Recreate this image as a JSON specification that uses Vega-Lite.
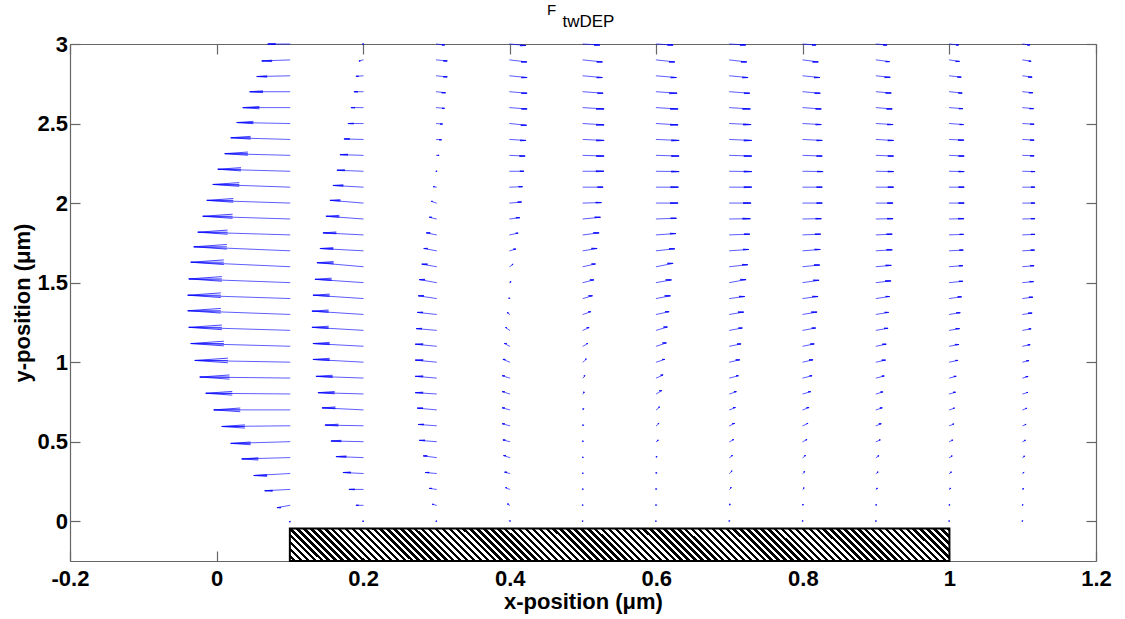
{
"$schema": "https://vega.github.io/schema/vega-lite/v6.json",
"width": 1026,
"height": 517,
"autosize": "none",
"padding": {"left": 70, "top": 44, "right": 29, "bottom": 58},
"background": "white",
"config": {
  "view": {"stroke": null},
  "font": "Liberation Sans",
  "axis": {"domainColor": "#666666", "domainWidth": 1.2, "tickColor": "#666666", "tickWidth": 1.2, "tickSize": -10, "grid": false,
    "labelFont": "Liberation Sans", "labelFontSize": 22, "labelFontWeight": "bold", "labelColor": "black",
    "titleFont": "Liberation Sans", "titleFontSize": 22, "titleFontWeight": "bold", "titleColor": "black",
    "labelFlush": false, "labelOverlap": false, "labelBound": false}
},
"title": {"text": "F", "anchor": "middle", "align": "left", "dx": -36, "fontSize": 15, "fontWeight": "normal", "color": "black", "font": "Liberation Sans", "offset": -6},
"datasets": {
"arrows": [
{"x":0.1,"y":3,"x2":0.07,"y2":3},
{"x":0.1,"y":2.9,"x2":0.0618,"y2":2.8937},
{"x":0.1,"y":2.8,"x2":0.055,"y2":2.7956},
{"x":0.1,"y":2.7,"x2":0.0454,"y2":2.7},
{"x":0.1,"y":2.6,"x2":0.0359,"y2":2.6},
{"x":0.1,"y":2.5,"x2":0.0277,"y2":2.5063},
{"x":0.1,"y":2.4,"x2":0.0195,"y2":2.4107},
{"x":0.1,"y":2.3,"x2":0.0113,"y2":2.3107},
{"x":0.1,"y":2.2,"x2":0.0018,"y2":2.2126},
{"x":0.1,"y":2.1,"x2":-0.005,"y2":2.117},
{"x":0.1,"y":2,"x2":-0.0132,"y2":2.017},
{"x":0.1,"y":1.9,"x2":-0.0187,"y2":1.917},
{"x":0.1,"y":1.8,"x2":-0.0255,"y2":1.817},
{"x":0.1,"y":1.7,"x2":-0.031,"y2":1.7251},
{"x":0.1,"y":1.6,"x2":-0.0351,"y2":1.6282},
{"x":0.1,"y":1.5,"x2":-0.0378,"y2":1.5232},
{"x":0.1,"y":1.4,"x2":-0.0392,"y2":1.4207},
{"x":0.1,"y":1.3,"x2":-0.0392,"y2":1.3232},
{"x":0.1,"y":1.2,"x2":-0.0378,"y2":1.2188},
{"x":0.1,"y":1.1,"x2":-0.0351,"y2":1.117},
{"x":0.1,"y":1,"x2":-0.0296,"y2":1.0107},
{"x":0.1,"y":0.9,"x2":-0.0228,"y2":0.9063},
{"x":0.1,"y":0.8,"x2":-0.0146,"y2":0.8044},
{"x":0.1,"y":0.7,"x2":-0.0037,"y2":0.7},
{"x":0.1,"y":0.6,"x2":0.0072,"y2":0.5956},
{"x":0.1,"y":0.5,"x2":0.0195,"y2":0.4893},
{"x":0.1,"y":0.4,"x2":0.0345,"y2":0.3918},
{"x":0.1,"y":0.3,"x2":0.0509,"y2":0.2874},
{"x":0.1,"y":0.2,"x2":0.0659,"y2":0.1918},
{"x":0.1,"y":0.1,"x2":0.0828,"y2":0.0856},
{"x":0.1,"y":0,"x2":0.0993,"y2":-0.003},
{"x":0.2,"y":3,"x2":0.1993,"y2":3},
{"x":0.2,"y":2.9,"x2":0.1945,"y2":2.8937},
{"x":0.2,"y":2.8,"x2":0.1905,"y2":2.7969},
{"x":0.2,"y":2.7,"x2":0.1877,"y2":2.7},
{"x":0.2,"y":2.6,"x2":0.1836,"y2":2.6},
{"x":0.2,"y":2.5,"x2":0.1795,"y2":2.5},
{"x":0.2,"y":2.4,"x2":0.1741,"y2":2.4031},
{"x":0.2,"y":2.3,"x2":0.1686,"y2":2.3044},
{"x":0.2,"y":2.2,"x2":0.1645,"y2":2.2063},
{"x":0.2,"y":2.1,"x2":0.1591,"y2":2.1107},
{"x":0.2,"y":2,"x2":0.155,"y2":2.017},
{"x":0.2,"y":1.9,"x2":0.1495,"y2":1.917},
{"x":0.2,"y":1.8,"x2":0.1454,"y2":1.8126},
{"x":0.2,"y":1.7,"x2":0.1413,"y2":1.7144},
{"x":0.2,"y":1.6,"x2":0.1372,"y2":1.6251},
{"x":0.2,"y":1.5,"x2":0.1345,"y2":1.5207},
{"x":0.2,"y":1.4,"x2":0.1318,"y2":1.4207},
{"x":0.2,"y":1.3,"x2":0.1304,"y2":1.3207},
{"x":0.2,"y":1.2,"x2":0.1304,"y2":1.2188},
{"x":0.2,"y":1.1,"x2":0.1318,"y2":1.117},
{"x":0.2,"y":1,"x2":0.1318,"y2":1.017},
{"x":0.2,"y":0.9,"x2":0.1359,"y2":0.9107},
{"x":0.2,"y":0.8,"x2":0.1386,"y2":0.8082},
{"x":0.2,"y":0.7,"x2":0.1441,"y2":0.7126},
{"x":0.2,"y":0.6,"x2":0.1482,"y2":0.6044},
{"x":0.2,"y":0.5,"x2":0.1563,"y2":0.5044},
{"x":0.2,"y":0.4,"x2":0.1632,"y2":0.4063},
{"x":0.2,"y":0.3,"x2":0.1727,"y2":0.3063},
{"x":0.2,"y":0.2,"x2":0.1809,"y2":0.2},
{"x":0.2,"y":0.1,"x2":0.1905,"y2":0.1},
{"x":0.2,"y":0,"x2":0.1993,"y2":0},
{"x":0.3,"y":3,"x2":0.3109,"y2":2.9937},
{"x":0.3,"y":2.9,"x2":0.3146,"y2":2.8937},
{"x":0.3,"y":2.8,"x2":0.3146,"y2":2.7937},
{"x":0.3,"y":2.7,"x2":0.3123,"y2":2.6937},
{"x":0.3,"y":2.6,"x2":0.3109,"y2":2.5956},
{"x":0.3,"y":2.5,"x2":0.3082,"y2":2.4969},
{"x":0.3,"y":2.4,"x2":0.3068,"y2":2.3981},
{"x":0.3,"y":2.3,"x2":0.3034,"y2":2.3},
{"x":0.3,"y":2.2,"x2":0.3007,"y2":2.2},
{"x":0.3,"y":2.1,"x2":0.2959,"y2":2.1031},
{"x":0.3,"y":2,"x2":0.2932,"y2":2.0107},
{"x":0.3,"y":1.9,"x2":0.2905,"y2":1.9107},
{"x":0.3,"y":1.8,"x2":0.2864,"y2":1.8126},
{"x":0.3,"y":1.7,"x2":0.2829,"y2":1.7144},
{"x":0.3,"y":1.6,"x2":0.2802,"y2":1.6157},
{"x":0.3,"y":1.5,"x2":0.2768,"y2":1.5188},
{"x":0.3,"y":1.4,"x2":0.2754,"y2":1.417},
{"x":0.3,"y":1.3,"x2":0.2741,"y2":1.3126},
{"x":0.3,"y":1.2,"x2":0.2727,"y2":1.2107},
{"x":0.3,"y":1.1,"x2":0.2713,"y2":1.1126},
{"x":0.3,"y":1,"x2":0.2713,"y2":1.0126},
{"x":0.3,"y":0.9,"x2":0.2713,"y2":0.9107},
{"x":0.3,"y":0.8,"x2":0.2713,"y2":0.8082},
{"x":0.3,"y":0.7,"x2":0.2741,"y2":0.7107},
{"x":0.3,"y":0.6,"x2":0.2754,"y2":0.6082},
{"x":0.3,"y":0.5,"x2":0.2768,"y2":0.5082},
{"x":0.3,"y":0.4,"x2":0.2823,"y2":0.4107},
{"x":0.3,"y":0.3,"x2":0.285,"y2":0.3063},
{"x":0.3,"y":0.2,"x2":0.2905,"y2":0.2063},
{"x":0.3,"y":0.1,"x2":0.2945,"y2":0.1063},
{"x":0.3,"y":0,"x2":0.2993,"y2":0},
{"x":0.4,"y":3,"x2":0.4218,"y2":2.9906},
{"x":0.4,"y":2.9,"x2":0.4232,"y2":2.8874},
{"x":0.4,"y":2.8,"x2":0.4236,"y2":2.7893},
{"x":0.4,"y":2.7,"x2":0.4236,"y2":2.6906},
{"x":0.4,"y":2.6,"x2":0.4236,"y2":2.5918},
{"x":0.4,"y":2.5,"x2":0.4228,"y2":2.4893},
{"x":0.4,"y":2.4,"x2":0.4218,"y2":2.3937},
{"x":0.4,"y":2.3,"x2":0.4209,"y2":2.2956},
{"x":0.4,"y":2.2,"x2":0.4191,"y2":2.2},
{"x":0.4,"y":2.1,"x2":0.4173,"y2":2.1031},
{"x":0.4,"y":2,"x2":0.416,"y2":2.0063},
{"x":0.4,"y":1.9,"x2":0.4136,"y2":1.9082},
{"x":0.4,"y":1.8,"x2":0.4113,"y2":1.8107},
{"x":0.4,"y":1.7,"x2":0.4082,"y2":1.7107},
{"x":0.4,"y":1.6,"x2":0.4045,"y2":1.6144},
{"x":0.4,"y":1.5,"x2":0.4018,"y2":1.5044},
{"x":0.4,"y":1.4,"x2":0.4,"y2":1.4019},
{"x":0.4,"y":1.3,"x2":0.3966,"y2":1.3107},
{"x":0.4,"y":1.2,"x2":0.3945,"y2":1.217},
{"x":0.4,"y":1.1,"x2":0.3928,"y2":1.117},
{"x":0.4,"y":1,"x2":0.3909,"y2":1.017},
{"x":0.4,"y":0.9,"x2":0.39,"y2":0.9144},
{"x":0.4,"y":0.8,"x2":0.39,"y2":0.8144},
{"x":0.4,"y":0.7,"x2":0.39,"y2":0.7126},
{"x":0.4,"y":0.6,"x2":0.39,"y2":0.6126},
{"x":0.4,"y":0.5,"x2":0.3909,"y2":0.5107},
{"x":0.4,"y":0.4,"x2":0.3918,"y2":0.4126},
{"x":0.4,"y":0.3,"x2":0.3932,"y2":0.3082},
{"x":0.4,"y":0.2,"x2":0.3945,"y2":0.2107},
{"x":0.4,"y":0.1,"x2":0.3969,"y2":0.1082},
{"x":0.4,"y":0,"x2":0.3996,"y2":0.0019},
{"x":0.5,"y":3,"x2":0.5228,"y2":2.9937},
{"x":0.5,"y":2.9,"x2":0.5263,"y2":2.8874},
{"x":0.5,"y":2.8,"x2":0.5263,"y2":2.7893},
{"x":0.5,"y":2.7,"x2":0.5273,"y2":2.6906},
{"x":0.5,"y":2.6,"x2":0.5286,"y2":2.5918},
{"x":0.5,"y":2.5,"x2":0.5286,"y2":2.4918},
{"x":0.5,"y":2.4,"x2":0.5286,"y2":2.3937},
{"x":0.5,"y":2.3,"x2":0.5286,"y2":2.2956},
{"x":0.5,"y":2.2,"x2":0.5282,"y2":2.2},
{"x":0.5,"y":2.1,"x2":0.5273,"y2":2.1},
{"x":0.5,"y":2,"x2":0.525,"y2":2.0031},
{"x":0.5,"y":1.9,"x2":0.5236,"y2":1.9107},
{"x":0.5,"y":1.8,"x2":0.5218,"y2":1.8126},
{"x":0.5,"y":1.7,"x2":0.5191,"y2":1.7144},
{"x":0.5,"y":1.6,"x2":0.5168,"y2":1.617},
{"x":0.5,"y":1.5,"x2":0.5146,"y2":1.517},
{"x":0.5,"y":1.4,"x2":0.5127,"y2":1.417},
{"x":0.5,"y":1.3,"x2":0.5105,"y2":1.317},
{"x":0.5,"y":1.2,"x2":0.5082,"y2":1.217},
{"x":0.5,"y":1.1,"x2":0.5064,"y2":1.117},
{"x":0.5,"y":1,"x2":0.5045,"y2":1.0188},
{"x":0.5,"y":0.9,"x2":0.5027,"y2":0.9144},
{"x":0.5,"y":0.8,"x2":0.5018,"y2":0.8107},
{"x":0.5,"y":0.7,"x2":0.501,"y2":0.7063},
{"x":0.5,"y":0.6,"x2":0.5007,"y2":0.6044},
{"x":0.5,"y":0.5,"x2":0.5004,"y2":0.5031},
{"x":0.5,"y":0.4,"x2":0.5004,"y2":0.4019},
{"x":0.5,"y":0.3,"x2":0.5003,"y2":0.3019},
{"x":0.5,"y":0.2,"x2":0.5003,"y2":0.2019},
{"x":0.5,"y":0.1,"x2":0.5001,"y2":0.1013},
{"x":0.5,"y":0,"x2":0.5001,"y2":0.0006},
{"x":0.6,"y":3,"x2":0.6228,"y2":2.9937},
{"x":0.6,"y":2.9,"x2":0.625,"y2":2.8874},
{"x":0.6,"y":2.8,"x2":0.6273,"y2":2.7893},
{"x":0.6,"y":2.7,"x2":0.6282,"y2":2.6906},
{"x":0.6,"y":2.6,"x2":0.6296,"y2":2.5918},
{"x":0.6,"y":2.5,"x2":0.6296,"y2":2.4918},
{"x":0.6,"y":2.4,"x2":0.631,"y2":2.3937},
{"x":0.6,"y":2.3,"x2":0.631,"y2":2.2956},
{"x":0.6,"y":2.2,"x2":0.631,"y2":2.1981},
{"x":0.6,"y":2.1,"x2":0.63,"y2":2.1},
{"x":0.6,"y":2,"x2":0.6296,"y2":2},
{"x":0.6,"y":1.9,"x2":0.6273,"y2":1.9044},
{"x":0.6,"y":1.8,"x2":0.6263,"y2":1.8082},
{"x":0.6,"y":1.7,"x2":0.625,"y2":1.7126},
{"x":0.6,"y":1.6,"x2":0.6228,"y2":1.6207},
{"x":0.6,"y":1.5,"x2":0.6205,"y2":1.517},
{"x":0.6,"y":1.4,"x2":0.6191,"y2":1.417},
{"x":0.6,"y":1.3,"x2":0.6173,"y2":1.317},
{"x":0.6,"y":1.2,"x2":0.615,"y2":1.2207},
{"x":0.6,"y":1.1,"x2":0.6136,"y2":1.1207},
{"x":0.6,"y":1,"x2":0.6113,"y2":1.017},
{"x":0.6,"y":0.9,"x2":0.6091,"y2":0.9188},
{"x":0.6,"y":0.8,"x2":0.6072,"y2":0.8207},
{"x":0.6,"y":0.7,"x2":0.6045,"y2":0.717},
{"x":0.6,"y":0.6,"x2":0.6037,"y2":0.6144},
{"x":0.6,"y":0.5,"x2":0.6027,"y2":0.5082},
{"x":0.6,"y":0.4,"x2":0.601,"y2":0.4063},
{"x":0.6,"y":0.3,"x2":0.6007,"y2":0.3044},
{"x":0.6,"y":0.2,"x2":0.6004,"y2":0.2031},
{"x":0.6,"y":0.1,"x2":0.6003,"y2":0.1019},
{"x":0.6,"y":0,"x2":0.6001,"y2":0.0006},
{"x":0.7,"y":3,"x2":0.7218,"y2":2.9937},
{"x":0.7,"y":2.9,"x2":0.7232,"y2":2.8874},
{"x":0.7,"y":2.8,"x2":0.725,"y2":2.7893},
{"x":0.7,"y":2.7,"x2":0.7273,"y2":2.6906},
{"x":0.7,"y":2.6,"x2":0.7282,"y2":2.5918},
{"x":0.7,"y":2.5,"x2":0.7291,"y2":2.4937},
{"x":0.7,"y":2.4,"x2":0.73,"y2":2.3937},
{"x":0.7,"y":2.3,"x2":0.73,"y2":2.2956},
{"x":0.7,"y":2.2,"x2":0.73,"y2":2.1981},
{"x":0.7,"y":2.1,"x2":0.73,"y2":2.1},
{"x":0.7,"y":2,"x2":0.7291,"y2":2},
{"x":0.7,"y":1.9,"x2":0.7282,"y2":1.9019},
{"x":0.7,"y":1.8,"x2":0.7273,"y2":1.8044},
{"x":0.7,"y":1.7,"x2":0.7259,"y2":1.7082},
{"x":0.7,"y":1.6,"x2":0.7246,"y2":1.6126},
{"x":0.7,"y":1.5,"x2":0.7222,"y2":1.5188},
{"x":0.7,"y":1.4,"x2":0.7205,"y2":1.4126},
{"x":0.7,"y":1.3,"x2":0.7191,"y2":1.3144},
{"x":0.7,"y":1.2,"x2":0.7173,"y2":1.2144},
{"x":0.7,"y":1.1,"x2":0.7154,"y2":1.1144},
{"x":0.7,"y":1,"x2":0.7136,"y2":1.0144},
{"x":0.7,"y":0.9,"x2":0.7119,"y2":0.9144},
{"x":0.7,"y":0.8,"x2":0.7091,"y2":0.8144},
{"x":0.7,"y":0.7,"x2":0.7078,"y2":0.7144},
{"x":0.7,"y":0.6,"x2":0.7068,"y2":0.6144},
{"x":0.7,"y":0.5,"x2":0.7055,"y2":0.5126},
{"x":0.7,"y":0.4,"x2":0.7041,"y2":0.4126},
{"x":0.7,"y":0.3,"x2":0.7034,"y2":0.3144},
{"x":0.7,"y":0.2,"x2":0.7023,"y2":0.2107},
{"x":0.7,"y":0.1,"x2":0.701,"y2":0.1063},
{"x":0.7,"y":0,"x2":0.7003,"y2":0.0019},
{"x":0.8,"y":3,"x2":0.8177,"y2":2.9937},
{"x":0.8,"y":2.9,"x2":0.8209,"y2":2.8874},
{"x":0.8,"y":2.8,"x2":0.8228,"y2":2.7893},
{"x":0.8,"y":2.7,"x2":0.8236,"y2":2.6906},
{"x":0.8,"y":2.6,"x2":0.825,"y2":2.5918},
{"x":0.8,"y":2.5,"x2":0.825,"y2":2.4937},
{"x":0.8,"y":2.4,"x2":0.8263,"y2":2.3937},
{"x":0.8,"y":2.3,"x2":0.8263,"y2":2.2956},
{"x":0.8,"y":2.2,"x2":0.8273,"y2":2.1981},
{"x":0.8,"y":2.1,"x2":0.8263,"y2":2.1},
{"x":0.8,"y":2,"x2":0.8263,"y2":2},
{"x":0.8,"y":1.9,"x2":0.825,"y2":1.9019},
{"x":0.8,"y":1.8,"x2":0.8241,"y2":1.8044},
{"x":0.8,"y":1.7,"x2":0.8236,"y2":1.7082},
{"x":0.8,"y":1.6,"x2":0.8228,"y2":1.6107},
{"x":0.8,"y":1.5,"x2":0.8218,"y2":1.5144},
{"x":0.8,"y":1.4,"x2":0.8205,"y2":1.4126},
{"x":0.8,"y":1.3,"x2":0.8191,"y2":1.3144},
{"x":0.8,"y":1.2,"x2":0.8173,"y2":1.2144},
{"x":0.8,"y":1.1,"x2":0.8154,"y2":1.1144},
{"x":0.8,"y":1,"x2":0.8136,"y2":1.0144},
{"x":0.8,"y":0.9,"x2":0.8123,"y2":0.9144},
{"x":0.8,"y":0.8,"x2":0.8105,"y2":0.8144},
{"x":0.8,"y":0.7,"x2":0.8082,"y2":0.7144},
{"x":0.8,"y":0.6,"x2":0.8068,"y2":0.6144},
{"x":0.8,"y":0.5,"x2":0.8055,"y2":0.5126},
{"x":0.8,"y":0.4,"x2":0.8037,"y2":0.4126},
{"x":0.8,"y":0.3,"x2":0.8027,"y2":0.3107},
{"x":0.8,"y":0.2,"x2":0.8018,"y2":0.2082},
{"x":0.8,"y":0.1,"x2":0.8007,"y2":0.1044},
{"x":0.8,"y":0,"x2":0.8003,"y2":0.0019},
{"x":0.9,"y":3,"x2":0.9146,"y2":2.9937},
{"x":0.9,"y":2.9,"x2":0.9181,"y2":2.8893},
{"x":0.9,"y":2.8,"x2":0.9191,"y2":2.7906},
{"x":0.9,"y":2.7,"x2":0.9205,"y2":2.6918},
{"x":0.9,"y":2.6,"x2":0.9218,"y2":2.5918},
{"x":0.9,"y":2.5,"x2":0.9228,"y2":2.4937},
{"x":0.9,"y":2.4,"x2":0.9236,"y2":2.3937},
{"x":0.9,"y":2.3,"x2":0.9236,"y2":2.2956},
{"x":0.9,"y":2.2,"x2":0.9236,"y2":2.1981},
{"x":0.9,"y":2.1,"x2":0.9236,"y2":2.1},
{"x":0.9,"y":2,"x2":0.9228,"y2":2},
{"x":0.9,"y":1.9,"x2":0.9228,"y2":1.9019},
{"x":0.9,"y":1.8,"x2":0.9218,"y2":1.8044},
{"x":0.9,"y":1.7,"x2":0.9218,"y2":1.7063},
{"x":0.9,"y":1.6,"x2":0.9205,"y2":1.6082},
{"x":0.9,"y":1.5,"x2":0.92,"y2":1.5107},
{"x":0.9,"y":1.4,"x2":0.9181,"y2":1.4126},
{"x":0.9,"y":1.3,"x2":0.9168,"y2":1.3126},
{"x":0.9,"y":1.2,"x2":0.916,"y2":1.2126},
{"x":0.9,"y":1.1,"x2":0.9136,"y2":1.1126},
{"x":0.9,"y":1,"x2":0.9127,"y2":1.0126},
{"x":0.9,"y":0.9,"x2":0.9109,"y2":0.9126},
{"x":0.9,"y":0.8,"x2":0.9091,"y2":0.8126},
{"x":0.9,"y":0.7,"x2":0.9082,"y2":0.7126},
{"x":0.9,"y":0.6,"x2":0.9068,"y2":0.6126},
{"x":0.9,"y":0.5,"x2":0.9055,"y2":0.5107},
{"x":0.9,"y":0.4,"x2":0.9037,"y2":0.4107},
{"x":0.9,"y":0.3,"x2":0.9027,"y2":0.3082},
{"x":0.9,"y":0.2,"x2":0.9018,"y2":0.2063},
{"x":0.9,"y":0.1,"x2":0.9007,"y2":0.1031},
{"x":0.9,"y":0,"x2":0.9003,"y2":0.0013},
{"x":1,"y":3,"x2":1.0123,"y2":2.9937},
{"x":1,"y":2.9,"x2":1.0136,"y2":2.8906},
{"x":1,"y":2.8,"x2":1.016,"y2":2.7918},
{"x":1,"y":2.7,"x2":1.0173,"y2":2.6918},
{"x":1,"y":2.6,"x2":1.0181,"y2":2.5937},
{"x":1,"y":2.5,"x2":1.0191,"y2":2.4937},
{"x":1,"y":2.4,"x2":1.0195,"y2":2.3956},
{"x":1,"y":2.3,"x2":1.02,"y2":2.2956},
{"x":1,"y":2.2,"x2":1.02,"y2":2.1981},
{"x":1,"y":2.1,"x2":1.02,"y2":2.1},
{"x":1,"y":2,"x2":1.02,"y2":2},
{"x":1,"y":1.9,"x2":1.0195,"y2":1.9019},
{"x":1,"y":1.8,"x2":1.0191,"y2":1.8031},
{"x":1,"y":1.7,"x2":1.0187,"y2":1.7044},
{"x":1,"y":1.6,"x2":1.0181,"y2":1.6063},
{"x":1,"y":1.5,"x2":1.0181,"y2":1.5082},
{"x":1,"y":1.4,"x2":1.0164,"y2":1.4107},
{"x":1,"y":1.3,"x2":1.0146,"y2":1.3107},
{"x":1,"y":1.2,"x2":1.0136,"y2":1.2107},
{"x":1,"y":1.1,"x2":1.0127,"y2":1.1107},
{"x":1,"y":1,"x2":1.0113,"y2":1.0107},
{"x":1,"y":0.9,"x2":1.0091,"y2":0.9107},
{"x":1,"y":0.8,"x2":1.0082,"y2":0.8107},
{"x":1,"y":0.7,"x2":1.0068,"y2":0.7107},
{"x":1,"y":0.6,"x2":1.0059,"y2":0.6107},
{"x":1,"y":0.5,"x2":1.0045,"y2":0.5094},
{"x":1,"y":0.4,"x2":1.0037,"y2":0.4094},
{"x":1,"y":0.3,"x2":1.0027,"y2":0.3082},
{"x":1,"y":0.2,"x2":1.0018,"y2":0.2063},
{"x":1,"y":0.1,"x2":1.0007,"y2":0.1031},
{"x":1,"y":0,"x2":1.0003,"y2":0.0013},
{"x":1.1,"y":3,"x2":1.1095,"y2":2.9937},
{"x":1.1,"y":2.9,"x2":1.1113,"y2":2.8918},
{"x":1.1,"y":2.8,"x2":1.1127,"y2":2.7918},
{"x":1.1,"y":2.7,"x2":1.1136,"y2":2.6937},
{"x":1.1,"y":2.6,"x2":1.1146,"y2":2.5937},
{"x":1.1,"y":2.5,"x2":1.1154,"y2":2.4956},
{"x":1.1,"y":2.4,"x2":1.1154,"y2":2.3956},
{"x":1.1,"y":2.3,"x2":1.1154,"y2":2.2969},
{"x":1.1,"y":2.2,"x2":1.1164,"y2":2.1981},
{"x":1.1,"y":2.1,"x2":1.1164,"y2":2.1},
{"x":1.1,"y":2,"x2":1.1164,"y2":2},
{"x":1.1,"y":1.9,"x2":1.1164,"y2":1.9019},
{"x":1.1,"y":1.8,"x2":1.1164,"y2":1.8031},
{"x":1.1,"y":1.7,"x2":1.116,"y2":1.7044},
{"x":1.1,"y":1.6,"x2":1.1154,"y2":1.6063},
{"x":1.1,"y":1.5,"x2":1.1146,"y2":1.5063},
{"x":1.1,"y":1.4,"x2":1.1136,"y2":1.4082},
{"x":1.1,"y":1.3,"x2":1.1127,"y2":1.3082},
{"x":1.1,"y":1.2,"x2":1.1113,"y2":1.2094},
{"x":1.1,"y":1.1,"x2":1.11,"y2":1.1094},
{"x":1.1,"y":1,"x2":1.1082,"y2":1.0094},
{"x":1.1,"y":0.9,"x2":1.1072,"y2":0.9094},
{"x":1.1,"y":0.8,"x2":1.1068,"y2":0.8094},
{"x":1.1,"y":0.7,"x2":1.1055,"y2":0.7094},
{"x":1.1,"y":0.6,"x2":1.1045,"y2":0.6082},
{"x":1.1,"y":0.5,"x2":1.1037,"y2":0.5082},
{"x":1.1,"y":0.4,"x2":1.1027,"y2":0.4082},
{"x":1.1,"y":0.3,"x2":1.1018,"y2":0.3063},
{"x":1.1,"y":0.2,"x2":1.1014,"y2":0.2044},
{"x":1.1,"y":0.1,"x2":1.1005,"y2":0.1025},
{"x":1.1,"y":0,"x2":1.1003,"y2":0.0013}
],
"electrode": [{"x":0.1,"x2":1.0,"y":-0.045,"y2":-0.25}]
},
"layer": [
{
  "data": {"name": "electrode"},
  "mark": {"type": "rect", "stroke": "black", "strokeWidth": 2,
    "fill": {"gradient": "linear", "x1": 0, "y1": 1, "x2": 1.047, "y2": 0.9481, "stops": [
{"offset":0,"color":"#fff"},{"offset":0.005,"color":"#fff"},{"offset":0.005,"color":"#000"},{"offset":0.01,"color":"#000"},
{"offset":0.01,"color":"#fff"},{"offset":0.015,"color":"#fff"},{"offset":0.015,"color":"#000"},{"offset":0.02,"color":"#000"},
{"offset":0.02,"color":"#fff"},{"offset":0.025,"color":"#fff"},{"offset":0.025,"color":"#000"},{"offset":0.03,"color":"#000"},
{"offset":0.03,"color":"#fff"},{"offset":0.035,"color":"#fff"},{"offset":0.035,"color":"#000"},{"offset":0.04,"color":"#000"},
{"offset":0.04,"color":"#fff"},{"offset":0.045,"color":"#fff"},{"offset":0.045,"color":"#000"},{"offset":0.05,"color":"#000"},
{"offset":0.05,"color":"#fff"},{"offset":0.055,"color":"#fff"},{"offset":0.055,"color":"#000"},{"offset":0.06,"color":"#000"},
{"offset":0.06,"color":"#fff"},{"offset":0.065,"color":"#fff"},{"offset":0.065,"color":"#000"},{"offset":0.07,"color":"#000"},
{"offset":0.07,"color":"#fff"},{"offset":0.075,"color":"#fff"},{"offset":0.075,"color":"#000"},{"offset":0.08,"color":"#000"},
{"offset":0.08,"color":"#fff"},{"offset":0.085,"color":"#fff"},{"offset":0.085,"color":"#000"},{"offset":0.09,"color":"#000"},
{"offset":0.09,"color":"#fff"},{"offset":0.095,"color":"#fff"},{"offset":0.095,"color":"#000"},{"offset":0.1,"color":"#000"},
{"offset":0.1,"color":"#fff"},{"offset":0.105,"color":"#fff"},{"offset":0.105,"color":"#000"},{"offset":0.11,"color":"#000"},
{"offset":0.11,"color":"#fff"},{"offset":0.115,"color":"#fff"},{"offset":0.115,"color":"#000"},{"offset":0.12,"color":"#000"},
{"offset":0.12,"color":"#fff"},{"offset":0.125,"color":"#fff"},{"offset":0.125,"color":"#000"},{"offset":0.13,"color":"#000"},
{"offset":0.13,"color":"#fff"},{"offset":0.135,"color":"#fff"},{"offset":0.135,"color":"#000"},{"offset":0.14,"color":"#000"},
{"offset":0.14,"color":"#fff"},{"offset":0.145,"color":"#fff"},{"offset":0.145,"color":"#000"},{"offset":0.15,"color":"#000"},
{"offset":0.15,"color":"#fff"},{"offset":0.155,"color":"#fff"},{"offset":0.155,"color":"#000"},{"offset":0.16,"color":"#000"},
{"offset":0.16,"color":"#fff"},{"offset":0.165,"color":"#fff"},{"offset":0.165,"color":"#000"},{"offset":0.17,"color":"#000"},
{"offset":0.17,"color":"#fff"},{"offset":0.175,"color":"#fff"},{"offset":0.175,"color":"#000"},{"offset":0.18,"color":"#000"},
{"offset":0.18,"color":"#fff"},{"offset":0.185,"color":"#fff"},{"offset":0.185,"color":"#000"},{"offset":0.19,"color":"#000"},
{"offset":0.19,"color":"#fff"},{"offset":0.195,"color":"#fff"},{"offset":0.195,"color":"#000"},{"offset":0.2,"color":"#000"},
{"offset":0.2,"color":"#fff"},{"offset":0.205,"color":"#fff"},{"offset":0.205,"color":"#000"},{"offset":0.21,"color":"#000"},
{"offset":0.21,"color":"#fff"},{"offset":0.215,"color":"#fff"},{"offset":0.215,"color":"#000"},{"offset":0.22,"color":"#000"},
{"offset":0.22,"color":"#fff"},{"offset":0.225,"color":"#fff"},{"offset":0.225,"color":"#000"},{"offset":0.23,"color":"#000"},
{"offset":0.23,"color":"#fff"},{"offset":0.235,"color":"#fff"},{"offset":0.235,"color":"#000"},{"offset":0.24,"color":"#000"},
{"offset":0.24,"color":"#fff"},{"offset":0.245,"color":"#fff"},{"offset":0.245,"color":"#000"},{"offset":0.25,"color":"#000"},
{"offset":0.25,"color":"#fff"},{"offset":0.255,"color":"#fff"},{"offset":0.255,"color":"#000"},{"offset":0.26,"color":"#000"},
{"offset":0.26,"color":"#fff"},{"offset":0.265,"color":"#fff"},{"offset":0.265,"color":"#000"},{"offset":0.27,"color":"#000"},
{"offset":0.27,"color":"#fff"},{"offset":0.275,"color":"#fff"},{"offset":0.275,"color":"#000"},{"offset":0.28,"color":"#000"},
{"offset":0.28,"color":"#fff"},{"offset":0.285,"color":"#fff"},{"offset":0.285,"color":"#000"},{"offset":0.29,"color":"#000"},
{"offset":0.29,"color":"#fff"},{"offset":0.295,"color":"#fff"},{"offset":0.295,"color":"#000"},{"offset":0.3,"color":"#000"},
{"offset":0.3,"color":"#fff"},{"offset":0.305,"color":"#fff"},{"offset":0.305,"color":"#000"},{"offset":0.31,"color":"#000"},
{"offset":0.31,"color":"#fff"},{"offset":0.315,"color":"#fff"},{"offset":0.315,"color":"#000"},{"offset":0.32,"color":"#000"},
{"offset":0.32,"color":"#fff"},{"offset":0.325,"color":"#fff"},{"offset":0.325,"color":"#000"},{"offset":0.33,"color":"#000"},
{"offset":0.33,"color":"#fff"},{"offset":0.335,"color":"#fff"},{"offset":0.335,"color":"#000"},{"offset":0.34,"color":"#000"},
{"offset":0.34,"color":"#fff"},{"offset":0.345,"color":"#fff"},{"offset":0.345,"color":"#000"},{"offset":0.35,"color":"#000"},
{"offset":0.35,"color":"#fff"},{"offset":0.355,"color":"#fff"},{"offset":0.355,"color":"#000"},{"offset":0.36,"color":"#000"},
{"offset":0.36,"color":"#fff"},{"offset":0.365,"color":"#fff"},{"offset":0.365,"color":"#000"},{"offset":0.37,"color":"#000"},
{"offset":0.37,"color":"#fff"},{"offset":0.375,"color":"#fff"},{"offset":0.375,"color":"#000"},{"offset":0.38,"color":"#000"},
{"offset":0.38,"color":"#fff"},{"offset":0.385,"color":"#fff"},{"offset":0.385,"color":"#000"},{"offset":0.39,"color":"#000"},
{"offset":0.39,"color":"#fff"},{"offset":0.395,"color":"#fff"},{"offset":0.395,"color":"#000"},{"offset":0.4,"color":"#000"},
{"offset":0.4,"color":"#fff"},{"offset":0.405,"color":"#fff"},{"offset":0.405,"color":"#000"},{"offset":0.41,"color":"#000"},
{"offset":0.41,"color":"#fff"},{"offset":0.415,"color":"#fff"},{"offset":0.415,"color":"#000"},{"offset":0.42,"color":"#000"},
{"offset":0.42,"color":"#fff"},{"offset":0.425,"color":"#fff"},{"offset":0.425,"color":"#000"},{"offset":0.43,"color":"#000"},
{"offset":0.43,"color":"#fff"},{"offset":0.435,"color":"#fff"},{"offset":0.435,"color":"#000"},{"offset":0.44,"color":"#000"},
{"offset":0.44,"color":"#fff"},{"offset":0.445,"color":"#fff"},{"offset":0.445,"color":"#000"},{"offset":0.45,"color":"#000"},
{"offset":0.45,"color":"#fff"},{"offset":0.455,"color":"#fff"},{"offset":0.455,"color":"#000"},{"offset":0.46,"color":"#000"},
{"offset":0.46,"color":"#fff"},{"offset":0.465,"color":"#fff"},{"offset":0.465,"color":"#000"},{"offset":0.47,"color":"#000"},
{"offset":0.47,"color":"#fff"},{"offset":0.475,"color":"#fff"},{"offset":0.475,"color":"#000"},{"offset":0.48,"color":"#000"},
{"offset":0.48,"color":"#fff"},{"offset":0.485,"color":"#fff"},{"offset":0.485,"color":"#000"},{"offset":0.49,"color":"#000"},
{"offset":0.49,"color":"#fff"},{"offset":0.495,"color":"#fff"},{"offset":0.495,"color":"#000"},{"offset":0.5,"color":"#000"},
{"offset":0.5,"color":"#fff"},{"offset":0.505,"color":"#fff"},{"offset":0.505,"color":"#000"},{"offset":0.51,"color":"#000"},
{"offset":0.51,"color":"#fff"},{"offset":0.515,"color":"#fff"},{"offset":0.515,"color":"#000"},{"offset":0.52,"color":"#000"},
{"offset":0.52,"color":"#fff"},{"offset":0.525,"color":"#fff"},{"offset":0.525,"color":"#000"},{"offset":0.53,"color":"#000"},
{"offset":0.53,"color":"#fff"},{"offset":0.535,"color":"#fff"},{"offset":0.535,"color":"#000"},{"offset":0.54,"color":"#000"},
{"offset":0.54,"color":"#fff"},{"offset":0.545,"color":"#fff"},{"offset":0.545,"color":"#000"},{"offset":0.55,"color":"#000"},
{"offset":0.55,"color":"#fff"},{"offset":0.555,"color":"#fff"},{"offset":0.555,"color":"#000"},{"offset":0.56,"color":"#000"},
{"offset":0.56,"color":"#fff"},{"offset":0.565,"color":"#fff"},{"offset":0.565,"color":"#000"},{"offset":0.57,"color":"#000"},
{"offset":0.57,"color":"#fff"},{"offset":0.575,"color":"#fff"},{"offset":0.575,"color":"#000"},{"offset":0.58,"color":"#000"},
{"offset":0.58,"color":"#fff"},{"offset":0.585,"color":"#fff"},{"offset":0.585,"color":"#000"},{"offset":0.59,"color":"#000"},
{"offset":0.59,"color":"#fff"},{"offset":0.595,"color":"#fff"},{"offset":0.595,"color":"#000"},{"offset":0.6,"color":"#000"},
{"offset":0.6,"color":"#fff"},{"offset":0.605,"color":"#fff"},{"offset":0.605,"color":"#000"},{"offset":0.61,"color":"#000"},
{"offset":0.61,"color":"#fff"},{"offset":0.615,"color":"#fff"},{"offset":0.615,"color":"#000"},{"offset":0.62,"color":"#000"},
{"offset":0.62,"color":"#fff"},{"offset":0.625,"color":"#fff"},{"offset":0.625,"color":"#000"},{"offset":0.63,"color":"#000"},
{"offset":0.63,"color":"#fff"},{"offset":0.635,"color":"#fff"},{"offset":0.635,"color":"#000"},{"offset":0.64,"color":"#000"},
{"offset":0.64,"color":"#fff"},{"offset":0.645,"color":"#fff"},{"offset":0.645,"color":"#000"},{"offset":0.65,"color":"#000"},
{"offset":0.65,"color":"#fff"},{"offset":0.655,"color":"#fff"},{"offset":0.655,"color":"#000"},{"offset":0.66,"color":"#000"},
{"offset":0.66,"color":"#fff"},{"offset":0.665,"color":"#fff"},{"offset":0.665,"color":"#000"},{"offset":0.67,"color":"#000"},
{"offset":0.67,"color":"#fff"},{"offset":0.675,"color":"#fff"},{"offset":0.675,"color":"#000"},{"offset":0.68,"color":"#000"},
{"offset":0.68,"color":"#fff"},{"offset":0.685,"color":"#fff"},{"offset":0.685,"color":"#000"},{"offset":0.69,"color":"#000"},
{"offset":0.69,"color":"#fff"},{"offset":0.695,"color":"#fff"},{"offset":0.695,"color":"#000"},{"offset":0.7,"color":"#000"},
{"offset":0.7,"color":"#fff"},{"offset":0.705,"color":"#fff"},{"offset":0.705,"color":"#000"},{"offset":0.71,"color":"#000"},
{"offset":0.71,"color":"#fff"},{"offset":0.715,"color":"#fff"},{"offset":0.715,"color":"#000"},{"offset":0.72,"color":"#000"},
{"offset":0.72,"color":"#fff"},{"offset":0.725,"color":"#fff"},{"offset":0.725,"color":"#000"},{"offset":0.73,"color":"#000"},
{"offset":0.73,"color":"#fff"},{"offset":0.735,"color":"#fff"},{"offset":0.735,"color":"#000"},{"offset":0.74,"color":"#000"},
{"offset":0.74,"color":"#fff"},{"offset":0.745,"color":"#fff"},{"offset":0.745,"color":"#000"},{"offset":0.75,"color":"#000"},
{"offset":0.75,"color":"#fff"},{"offset":0.755,"color":"#fff"},{"offset":0.755,"color":"#000"},{"offset":0.76,"color":"#000"},
{"offset":0.76,"color":"#fff"},{"offset":0.765,"color":"#fff"},{"offset":0.765,"color":"#000"},{"offset":0.77,"color":"#000"},
{"offset":0.77,"color":"#fff"},{"offset":0.775,"color":"#fff"},{"offset":0.775,"color":"#000"},{"offset":0.78,"color":"#000"},
{"offset":0.78,"color":"#fff"},{"offset":0.785,"color":"#fff"},{"offset":0.785,"color":"#000"},{"offset":0.79,"color":"#000"},
{"offset":0.79,"color":"#fff"},{"offset":0.795,"color":"#fff"},{"offset":0.795,"color":"#000"},{"offset":0.8,"color":"#000"},
{"offset":0.8,"color":"#fff"},{"offset":0.805,"color":"#fff"},{"offset":0.805,"color":"#000"},{"offset":0.81,"color":"#000"},
{"offset":0.81,"color":"#fff"},{"offset":0.815,"color":"#fff"},{"offset":0.815,"color":"#000"},{"offset":0.82,"color":"#000"},
{"offset":0.82,"color":"#fff"},{"offset":0.825,"color":"#fff"},{"offset":0.825,"color":"#000"},{"offset":0.83,"color":"#000"},
{"offset":0.83,"color":"#fff"},{"offset":0.835,"color":"#fff"},{"offset":0.835,"color":"#000"},{"offset":0.84,"color":"#000"},
{"offset":0.84,"color":"#fff"},{"offset":0.845,"color":"#fff"},{"offset":0.845,"color":"#000"},{"offset":0.85,"color":"#000"},
{"offset":0.85,"color":"#fff"},{"offset":0.855,"color":"#fff"},{"offset":0.855,"color":"#000"},{"offset":0.86,"color":"#000"},
{"offset":0.86,"color":"#fff"},{"offset":0.865,"color":"#fff"},{"offset":0.865,"color":"#000"},{"offset":0.87,"color":"#000"},
{"offset":0.87,"color":"#fff"},{"offset":0.875,"color":"#fff"},{"offset":0.875,"color":"#000"},{"offset":0.88,"color":"#000"},
{"offset":0.88,"color":"#fff"},{"offset":0.885,"color":"#fff"},{"offset":0.885,"color":"#000"},{"offset":0.89,"color":"#000"},
{"offset":0.89,"color":"#fff"},{"offset":0.895,"color":"#fff"},{"offset":0.895,"color":"#000"},{"offset":0.9,"color":"#000"},
{"offset":0.9,"color":"#fff"},{"offset":0.905,"color":"#fff"},{"offset":0.905,"color":"#000"},{"offset":0.91,"color":"#000"},
{"offset":0.91,"color":"#fff"},{"offset":0.915,"color":"#fff"},{"offset":0.915,"color":"#000"},{"offset":0.92,"color":"#000"},
{"offset":0.92,"color":"#fff"},{"offset":0.925,"color":"#fff"},{"offset":0.925,"color":"#000"},{"offset":0.93,"color":"#000"},
{"offset":0.93,"color":"#fff"},{"offset":0.935,"color":"#fff"},{"offset":0.935,"color":"#000"},{"offset":0.94,"color":"#000"},
{"offset":0.94,"color":"#fff"},{"offset":0.945,"color":"#fff"},{"offset":0.945,"color":"#000"},{"offset":0.95,"color":"#000"},
{"offset":0.95,"color":"#fff"},{"offset":0.955,"color":"#fff"},{"offset":0.955,"color":"#000"},{"offset":0.96,"color":"#000"},
{"offset":0.96,"color":"#fff"},{"offset":0.965,"color":"#fff"},{"offset":0.965,"color":"#000"},{"offset":0.97,"color":"#000"},
{"offset":0.97,"color":"#fff"},{"offset":0.975,"color":"#fff"},{"offset":0.975,"color":"#000"},{"offset":0.98,"color":"#000"},
{"offset":0.98,"color":"#fff"},{"offset":0.985,"color":"#fff"},{"offset":0.985,"color":"#000"},{"offset":0.99,"color":"#000"},
{"offset":0.99,"color":"#fff"},{"offset":0.995,"color":"#fff"},{"offset":0.995,"color":"#000"},{"offset":1,"color":"#000"}
    ]}},
  "encoding": {
    "x": {"field": "x", "type": "quantitative", "scale": {"domain": [-0.2, 1.2], "nice": false, "zero": false},
      "axis": {"orient": "bottom", "values": [-0.2, 0, 0.2, 0.4, 0.6, 0.8, 1, 1.2], "format": "~g", "labelExpr": "replace(datum.label, '\u2212', '-')", "labelPadding": 17, "title": "x-position (\u03bcm)", "titlePadding": 2}},
    "x2": {"field": "x2"},
    "y": {"field": "y", "type": "quantitative", "scale": {"domain": [-0.25, 3], "nice": false, "zero": false},
      "axis": {"orient": "left", "values": [0, 0.5, 1, 1.5, 2, 2.5, 3], "format": "~g", "labelPadding": 12.5, "title": "y-position (\u03bcm)", "titlePadding": 2}},
    "y2": {"field": "y2"}
  }
},
{
  "data": {"name": "arrows"},
  "mark": {"type": "rule", "color": "#0000ff", "strokeWidth": 0.8, "strokeCap": "round", "opacity": 0.8},
  "encoding": {
    "x": {"field": "x", "type": "quantitative", "scale": {"domain": [-0.2, 1.2], "nice": false, "zero": false},
      "axis": {"orient": "top", "values": [-0.2, 0, 0.2, 0.4, 0.6, 0.8, 1, 1.2], "labels": false, "title": "twDEP", "titleFontSize": 17, "titleFontWeight": "normal", "titleAlign": "left", "titleBaseline": "alphabetic", "titleAnchor": "start", "titleX": 492, "titleY": -18}},
    "x2": {"field": "x2"},
    "y": {"field": "y", "type": "quantitative", "scale": {"domain": [-0.25, 3], "nice": false, "zero": false},
      "axis": {"orient": "right", "values": [0, 0.5, 1, 1.5, 2, 2.5, 3], "labels": false, "title": null}},
    "y2": {"field": "y2"}
  }
},
{
  "data": {"name": "arrows"},
  "mark": {"type": "point", "filled": false, "color": "#0000ff", "strokeWidth": 0.8, "opacity": 0.9},
  "encoding": {
    "x": {"field": "x2", "type": "quantitative", "scale": {"domain": [-0.2, 1.2], "nice": false, "zero": false}, "axis": null},
    "y": {"field": "y2", "type": "quantitative", "scale": {"domain": [-0.25, 3], "nice": false, "zero": false}, "axis": null},
    "shape": {"condition": {"test": "datum.x2 < datum.x", "value": "M0,0L1,-0.07M0,0L1,0.07M0,0L1,0"}, "value": "M0,0L-1,-0.07M0,0L-1,0.07M0,0L-1,0"},
    "size": {"condition": [
      {"test": "abs(datum.x2-datum.x)>=0.1296", "value": 4356},
      {"test": "abs(datum.x2-datum.x)>=0.116", "value": 3528},
      {"test": "abs(datum.x2-datum.x)>=0.1023", "value": 2788},
      {"test": "abs(datum.x2-datum.x)>=0.0887", "value": 2134},
      {"test": "abs(datum.x2-datum.x)>=0.075", "value": 1568},
      {"test": "abs(datum.x2-datum.x)>=0.0614", "value": 1089},
      {"test": "abs(datum.x2-datum.x)>=0.0477", "value": 697},
      {"test": "abs(datum.x2-datum.x)>=0.0368", "value": 419},
      {"test": "abs(datum.x2-datum.x)>=0.0273", "value": 241},
      {"test": "abs(datum.x2-datum.x)>=0.0191", "value": 126},
      {"test": "abs(datum.x2-datum.x)>=0.0123", "value": 58},
      {"test": "abs(datum.x2-datum.x)>=0.0068", "value": 21}
    ], "value": 5}
  }
}
],
"resolve": {"axis": {"x": "independent", "y": "independent"}}
}
